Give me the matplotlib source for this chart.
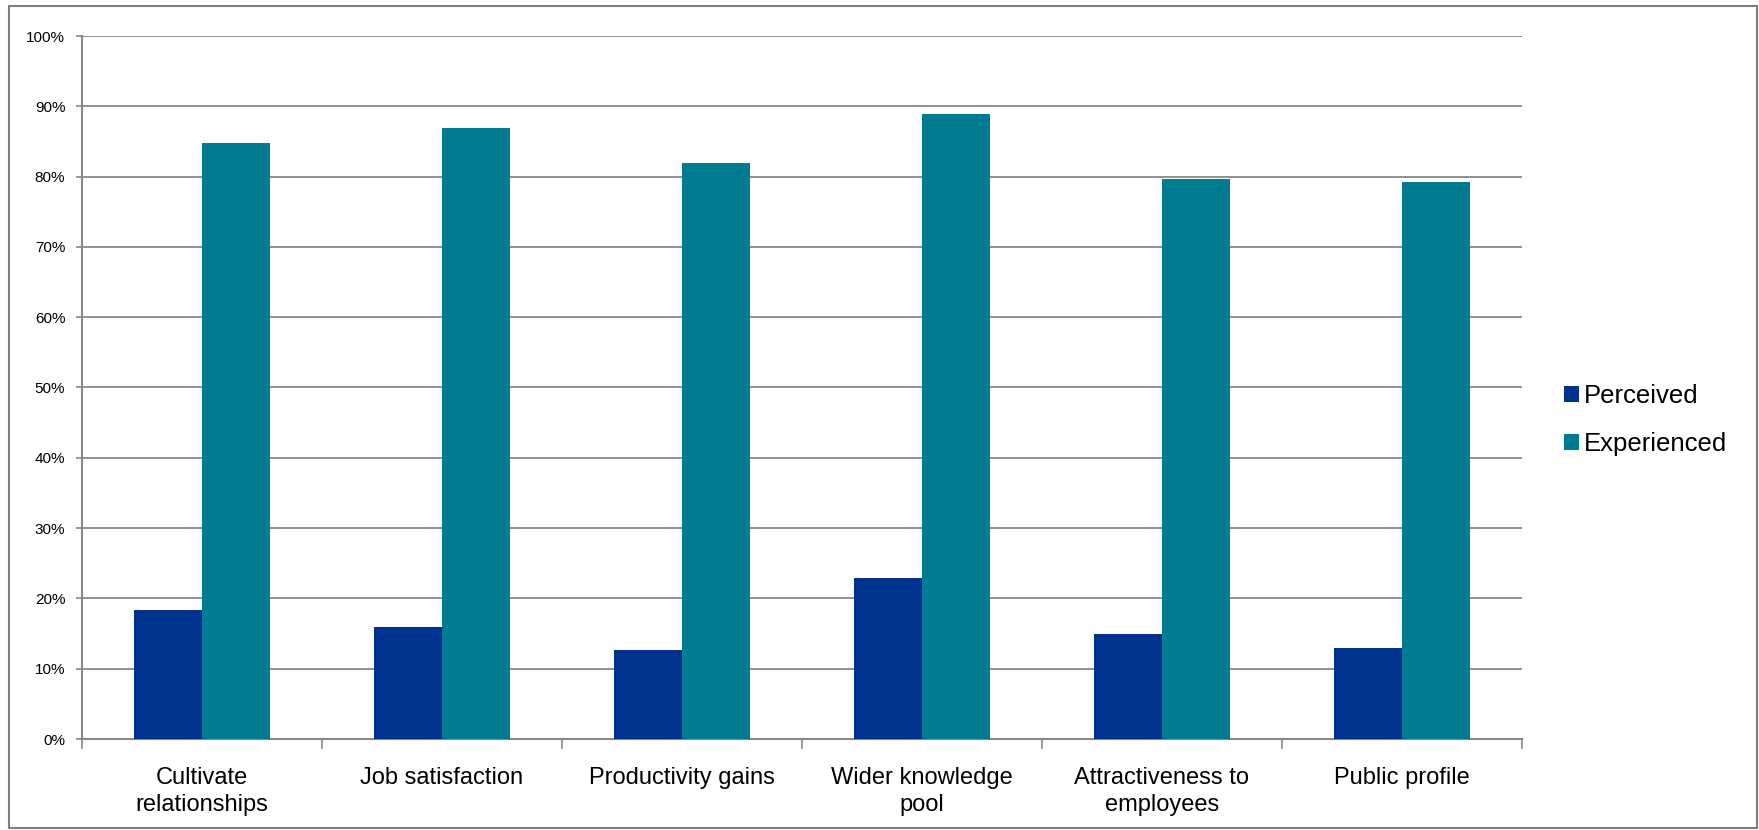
import numpy as np
import matplotlib.pyplot as plt
from matplotlib.patches import Rectangle

plt.rcParams['font.family'] = ['Liberation Sans', 'DejaVu Sans']

categories = ['Cultivate\nrelationships', 'Job satisfaction', 'Productivity gains',
              'Wider knowledge\npool', 'Attractiveness to\nemployees', 'Public profile']
perceived = [18.4, 15.9, 12.7, 22.9, 14.9, 13.0]
experienced = [84.8, 86.9, 81.9, 88.9, 79.7, 79.3]
series_names = ['Perceived', 'Experienced']
colors = ['#00338D', '#007C92']
grid_color = '#878787'

W, H = 1759, 830
fig = plt.figure(figsize=(W / 100, H / 100), dpi=100)
ax = fig.add_axes([82 / W, 91 / H, (1522 - 82) / W, (739 - 36) / H])

x = np.arange(len(categories))
bw = 0.285
ax.bar(x - bw / 2, perceived, bw, color=colors[0], label=series_names[0], zorder=3)
ax.bar(x + bw / 2, experienced, bw, color=colors[1], label=series_names[1], zorder=3)

ax.set_xlim(-0.5, len(categories) - 0.5)
ax.set_ylim(0, 100)

# y axis: percentage ticks with horizontal gridlines
yt = np.arange(0, 101, 10)
ax.set_yticks(yt)
ax.set_yticklabels([f'{v}%' for v in yt], fontsize=11)
ax.yaxis.grid(True, color=grid_color, linewidth=1.3, zorder=0)
ax.tick_params(axis='y', direction='out', length=4, width=1.2, color=grid_color, pad=8)

# x axis: labels at category centres, tick marks at the boundaries
ax.set_xticks(x)
ax.set_xticklabels(categories, fontsize=17, linespacing=1.3)
ax.tick_params(axis='x', which='major', length=0, pad=20)
ax.set_xticks(np.arange(-0.5, len(categories)), minor=True)
ax.tick_params(axis='x', which='minor', direction='out', length=7, width=1.2, color=grid_color)

for side in ['top', 'right']:
    ax.spines[side].set_visible(False)
for side in ['left', 'bottom']:
    ax.spines[side].set_color(grid_color)
    ax.spines[side].set_linewidth(1.5)

ax.legend(loc='center left', bbox_to_anchor=(1564 / W, 1 - 420 / H),
          bbox_transform=fig.transFigure, frameon=False, fontsize=18.5,
          handlelength=0.6, handleheight=0.6, handletextpad=0.17,
          labelspacing=0.93, borderpad=0, borderaxespad=0)

# outer chart frame
fig.patches.append(Rectangle((9 / W, 2 / H), (1757 - 9) / W, (824 - 2) / H,
                             transform=fig.transFigure, fill=False,
                             edgecolor='#7f7f7f', linewidth=1.5))

fig.savefig('out.png', dpi=100)
